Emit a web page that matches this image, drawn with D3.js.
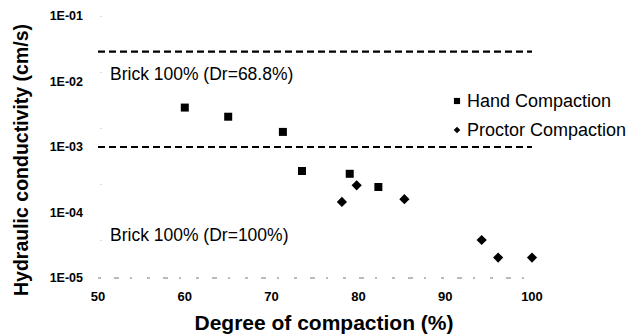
<!DOCTYPE html>
<html>
<head>
<meta charset="utf-8">
<script src="https://cdn.jsdelivr.net/npm/d3@7"></script>
<style>
  body { margin: 0; background: #fff; }
  svg { display: block; }
</style>
</head>
<body>
<div id="chart"></div>
<script>
// values
const handX = [60.0, 65.0, 71.3, 73.5, 79.0, 82.3];
const handK = [4.0e-3, 2.9e-3, 1.7e-3, 4.3e-4, 3.9e-4, 2.45e-4];
const proctorX = [78.1, 79.8, 85.3, 94.2, 96.1, 100.0];
const proctorK = [1.45e-4, 2.6e-4, 1.6e-4, 3.8e-5, 2.05e-5, 2.05e-5];
const brickLines = [2.85e-2, 1.0e-3];
const brickLabels = ["Brick 100% (Dr=68.8%)", "Brick 100% (Dr=100%)"];
const brickLabelK = [1.3e-2, 4.5e-5];
const xTicks = [50, 60, 70, 80, 90, 100];
const yTicks = [1e-5, 1e-4, 1e-3, 1e-2, 1e-1];
const yTickLabels = ["1E-05", "1E-04", "1E-03", "1E-02", "1E-01"];
const legendNames = ["Hand Compaction", "Proctor Compaction"];

const width = 629, height = 336;
const font = "Liberation Sans, Arial, sans-serif";

const svg = d3.select("#chart").append("svg")
    .attr("width", width)
    .attr("height", height);

const x = d3.scaleLinear().domain([50, 100]).range([98, 532]);
const y = d3.scaleLog().domain([1e-5, 1e-1]).range([278, 16]);

// faint axes, as in the scan
svg.append("line")
    .attr("x1", x(50)).attr("x2", x(100))
    .attr("y1", y(1e-5)).attr("y2", y(1e-5))
    .attr("stroke", "#777")
    .attr("stroke-width", 1.2)
    .attr("stroke-dasharray", "3,13,5,11,2,15");
svg.append("line")
    .attr("x1", x(50) + 3).attr("x2", x(50) + 3)
    .attr("y1", y(1e-1)).attr("y2", y(1e-5))
    .attr("stroke", "#bbb")
    .attr("stroke-width", 1)
    .attr("stroke-dasharray", "1,55");

// y tick labels
svg.selectAll(".ytick")
    .data(yTicks)
    .enter()
    .append("text")
    .attr("class", "ytick")
    .attr("x", 83)
    .attr("y", d => y(d))
    .attr("dy", "0.35em")
    .attr("text-anchor", "end")
    .attr("font-family", font)
    .attr("font-weight", "bold")
    .attr("font-size", 12.5)
    .text((d, i) => yTickLabels[i]);

// x tick labels
svg.selectAll(".xtick")
    .data(xTicks)
    .enter()
    .append("text")
    .attr("class", "xtick")
    .attr("x", d => x(d))
    .attr("y", 296)
    .attr("dy", "0.35em")
    .attr("text-anchor", "middle")
    .attr("font-family", font)
    .attr("font-weight", "bold")
    .attr("font-size", 13)
    .text(d => d);

// dashed brick reference lines
svg.selectAll(".brick")
    .data(brickLines)
    .enter()
    .append("line")
    .attr("class", "brick")
    .attr("x1", x(50)).attr("x2", x(100))
    .attr("y1", d => y(d)).attr("y2", d => y(d))
    .attr("stroke", "#000")
    .attr("stroke-width", 2.2)
    .attr("stroke-dasharray", "7,4");

svg.selectAll(".brickLabel")
    .data(brickLabels)
    .enter()
    .append("text")
    .attr("class", "brickLabel")
    .attr("x", 110)
    .attr("y", (d, i) => y(brickLabelK[i]))
    .attr("dy", "0.35em")
    .attr("font-family", font)
    .attr("font-size", 17.5)
    .text(d => d);

// data markers
const hand = handX.map((v, i) => [v, handK[i]]);
const proctor = proctorX.map((v, i) => [v, proctorK[i]]);

svg.selectAll(".hand")
    .data(hand)
    .enter()
    .append("path")
    .attr("class", "hand")
    .attr("transform", d => `translate(${x(d[0])},${y(d[1])})`)
    .attr("d", d3.symbol().type(d3.symbolSquare).size(64))
    .attr("fill", "#000");

svg.selectAll(".proctor")
    .data(proctor)
    .enter()
    .append("path")
    .attr("class", "proctor")
    .attr("transform", d => `translate(${x(d[0])},${y(d[1])}) rotate(45)`)
    .attr("d", d3.symbol().type(d3.symbolSquare).size(52))
    .attr("fill", "#000");

// legend
const legend = svg.append("g");
legendNames.forEach((name, i) => {
    const ly = 101 + i * 29;
    legend.append("path")
        .attr("transform", i === 0 ? `translate(457,${ly})` : `translate(457,${ly}) rotate(45)`)
        .attr("d", d3.symbol().type(d3.symbolSquare).size(i === 0 ? 38 : 22))
        .attr("fill", "#000");
    legend.append("text")
        .attr("x", 467)
        .attr("y", ly)
        .attr("dy", "0.35em")
        .attr("font-family", font)
        .attr("font-size", 18)
        .text(name);
});

// axis titles
svg.append("text")
    .attr("transform", "translate(21,160) rotate(-90)")
    .attr("dy", "0.35em")
    .attr("text-anchor", "middle")
    .attr("font-family", font)
    .attr("font-weight", "bold")
    .attr("font-size", 19.5)
    .text("Hydraulic conductivity (cm/s)");

svg.append("text")
    .attr("x", 324)
    .attr("y", 323)
    .attr("dy", "0.35em")
    .attr("text-anchor", "middle")
    .attr("font-family", font)
    .attr("font-weight", "bold")
    .attr("font-size", 21)
    .text("Degree of compaction (%)");
</script>
</body>
</html>
